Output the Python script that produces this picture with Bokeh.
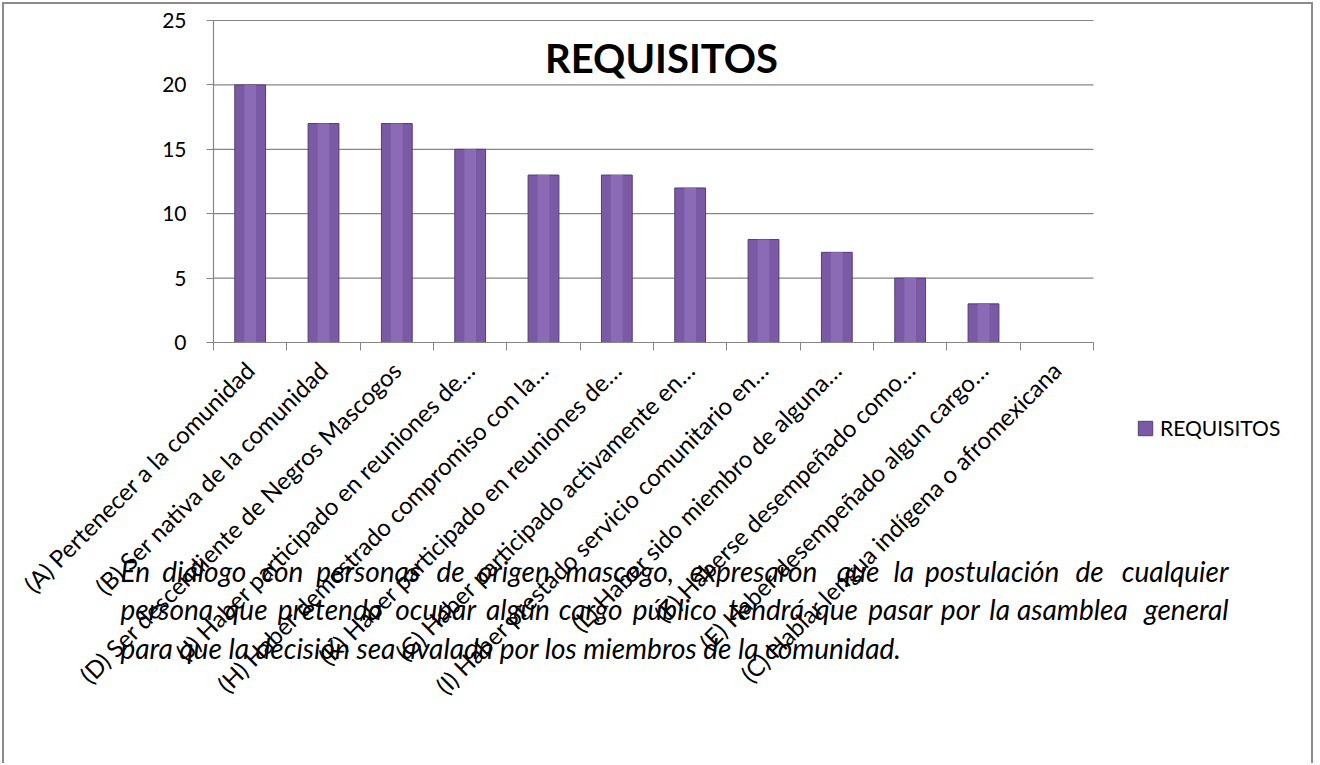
import math
from bokeh.plotting import figure
from bokeh.models import FixedTicker, Label, Legend, LegendItem, Range1d
from bokeh.embed import file_html
from bokeh.resources import INLINE

# ---------------- data ----------------
categories = [
    "(A) Pertenecer a la comunidad",
    "(B) Ser nativa de la comunidad",
    "(D) Ser descendiente de Negros Mascogos",
    "(J) Haber participado en reuniones de…",
    "(H) Haber demostrado compromiso con la…",
    "(K) Haber participado en reuniones de…",
    "(G) Haber participado activamente en…",
    "(I) Haber prestado servicio comunitario en…",
    "(L) Haber sido miembro de alguna…",
    "(F) Haberse desempeñado como…",
    "(E) Haber desempeñado algun cargo…",
    "(C) Hablar lengua indígena o afromexicana",
]
values = [20, 17, 17, 15, 13, 13, 12, 8, 7, 5, 3, 0]
y_ticks = [0, 5, 10, 15, 20, 25]
series_name = "REQUISITOS"
chart_title = "REQUISITOS"
note_lines = [
    "En diálogo con personas de origen mascogo, expresaron que la postulación de cualquier",
    "persona que pretenda ocupar algún cargo público tendrá que pasar por la asamblea general",
    "para que la decisión sea avalada por los miembros de la comunidad.",
]

# ---------------- layout ----------------
ORG = 4                   # canvas origin in page px (2px margin + 2px border)
W, H = 1311, 761
PX0, PX1 = 213, 1093      # data area in page px (x)
PYT, PY0 = 20, 342        # data area in page px (y top, y bottom)
FONT = "Lato"
GRID = "#868686"
n = len(categories)
ymax = y_ticks[-1]
ux = (PX1 - PX0) / n
uy = (PY0 - PYT) / ymax

xs = -0.5 - (PX0 - ORG) / ux
xe = n - 0.5 + (ORG + W - PX1) / ux
ye = ymax + (PYT - ORG) / uy
ys = -(ORG + H - PY0) / uy

p = figure(
    width=W, height=H, output_backend="svg", toolbar_location=None,
    x_range=Range1d(xs, xe), y_range=Range1d(ys, ye), min_border=0,
    background_fill_color="white", border_fill_color="white",
)
p.title.visible = False
p.outline_line_color = None
p.styles = {"margin-left": "2px", "margin-top": "2px",
            "border-top": "2px solid #8c8c8c", "border-left": "2px solid #8c8c8c",
            "border-right": "2px solid #8c8c8c"}

def px2x(px):
    return (px - PX0) / ux - 0.5
def px2y(py):
    return (PY0 - py) / uy

idx = list(range(n))

# horizontal gridlines from the tick list
p.segment(x0=[-0.5] * len(y_ticks), x1=[n - 0.5] * len(y_ticks), y0=y_ticks, y1=y_ticks,
          line_color=GRID, line_width=1.2, level="underlay")

bars = p.vbar(x=idx, top=values, width=0.42, fill_color="#7b5aa5",
              line_color="#523c78", line_width=1)
p.vbar(x=idx, top=values, width=0.16, fill_color="#8b6bb6", line_color=None)

# axes (fixed inside the frame)
xa = p.xaxis[0]
xa.fixed_location = 0
xa.bounds = (-0.5, n - 0.5)
xa.ticker = FixedTicker(ticks=idx, minor_ticks=[i - 0.5 for i in range(n + 1)])
xa.major_label_overrides = {i: c for i, c in zip(idx, categories)}
xa.major_label_orientation = math.pi / 4
xa.major_tick_line_color = None
xa.major_tick_out = 0
xa.major_tick_in = 0
xa.minor_tick_line_color = GRID
xa.minor_tick_in = 0
xa.minor_tick_out = 8
xa.axis_line_color = GRID
xa.axis_line_width = 1.2
xa.major_label_standoff = 15
xa.major_label_text_font = FONT
xa.major_label_text_font_size = "24px"
xa.major_label_text_color = "black"

ya = p.yaxis[0]
ya.fixed_location = -0.5
ya.bounds = (0, ymax)
ya.ticker = FixedTicker(ticks=y_ticks)
ya.axis_line_color = GRID
ya.axis_line_width = 1.2
ya.major_tick_line_color = GRID
ya.major_tick_out = 7
ya.major_tick_in = 0
ya.minor_tick_line_color = None
ya.major_label_standoff = 20
ya.major_label_text_font = FONT
ya.major_label_text_font_size = "21px"
ya.major_label_text_color = "black"

p.xgrid.visible = False
p.ygrid.visible = False

# title inside plot area
p.add_layout(Label(x=px2x(661), y=px2y(57), text=chart_title, text_font=FONT,
                   text_font_style="bold", text_font_size="40px",
                   text_align="center", text_baseline="middle", text_color="black"))

# legend
legend = Legend(items=[LegendItem(label=series_name, renderers=[bars])],
                location=(1136 - ORG, ORG + H - 428 - 12), orientation="vertical",
                border_line_color=None, background_fill_alpha=0,
                padding=0, margin=0, glyph_width=18, glyph_height=18,
                label_standoff=6, label_text_font=FONT,
                label_text_font_size="21px", label_text_color="black")
p.add_layout(legend)

# justified italic paragraph
CW = {
    'a': .50, 'b': .56, 'c': .46, 'd': .56, 'e': .527, 'f': .32, 'g': .505, 'h': .55,
    'i': .238, 'j': .24, 'k': .50, 'l': .238, 'm': .836, 'n': .55, 'o': .56, 'p': .551,
    'q': .56, 'r': .37, 's': .422, 't': .354, 'u': .55, 'v': .50, 'w': .77, 'x': .49,
    'y': .50, 'z': .45, 'á': .50, 'é': .527, 'í': .238, 'ó': .56, 'ú': .55, 'E': .55,
    ',': .20, '.': .20,
}
FS = 28
L_X, R_X = 120, 1228
LINE_Y = [570, 608, 647]
def wwidth(w):
    return sum(CW.get(ch, .52) for ch in w) * FS

for li, line in enumerate(note_lines):
    last = li == len(note_lines) - 1
    if last:
        p.add_layout(Label(x=px2x(L_X), y=px2y(LINE_Y[li]), text=line, text_font=FONT,
                           text_font_style="italic", text_font_size=f"{FS}px",
                           text_align="left", text_baseline="middle", text_color="black"))
        continue
    words = line.split(" ")
    widths = [wwidth(w) for w in words]
    gap = (R_X - L_X - sum(widths)) / (len(words) - 1)
    xpos = L_X
    for wi, w in enumerate(words):
        align, xx = "left", xpos
        if wi == len(words) - 1:
            align, xx = "right", R_X
        p.add_layout(Label(x=px2x(xx), y=px2y(LINE_Y[li]), text=w, text_font=FONT,
                           text_font_style="italic", text_font_size=f"{FS}px",
                           text_align=align, text_baseline="middle", text_color="black"))
        xpos += widths[wi] + gap

open("out.html", "w").write(file_html(p, INLINE))
